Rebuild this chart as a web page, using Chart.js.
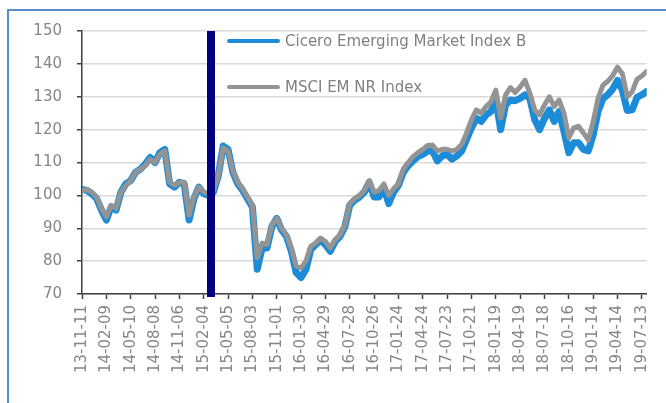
<!DOCTYPE html>
<html>
<head>
<meta charset="utf-8">
<script src="https://cdn.jsdelivr.net/npm/chart.js@4.4.1/dist/chart.umd.min.js"></script>
<style>
  html, body { margin: 0; padding: 0; background: #fff; overflow: hidden; }
  #wrap { position: relative; width: 666px; height: 403px; }
  #frame { position: absolute; left: 7px; top: 9px; width: 700px; height: 450px;
           border-left: 2px solid #5B8BD0; border-top: 2px solid #5B8BD0; }
  #chart { position: absolute; left: 0; top: 0; }
  .leg { position: absolute; left: 227px; font: 15px "DejaVu Sans", sans-serif; color: #808080;
         white-space: nowrap; }
  .leg i { display: inline-block; width: 53px; height: 4px; border-radius: 2px;
           vertical-align: middle; margin-right: 5px; position: relative; top: -1px; }
</style>
</head>
<body>
<div id="wrap">
  <div id="frame"></div>
  <canvas id="chart" width="666" height="403"></canvas>
  <div class="leg" style="top:32px"><i style="background:#1C8CD9"></i>Cicero Emerging Market Index B</div>
  <div class="leg" style="top:78px"><i style="background:#949494"></i>MSCI EM NR Index</div>
</div>
<script>
// values, one sample every 18 days from 2013-11-11
const startDate = '2013-11-11';
const sampleStepDays = 18;

const cicero = [
  101.8, 101.5, 100.5, 99, 95.5, 92.5, 96.5, 95.5, 101, 103.5,
  104.5, 107, 108, 109.5, 111.5, 110, 113, 114, 103.5, 102.5,
  104, 103.5, 92.5, 99, 102.5, 100.5, 100, 101, 106, 115,
  114, 107, 103.5, 101.5, 99, 96.5, 77.5, 84, 84, 90.5,
  93, 89.5, 87.5, 83, 76.5, 75, 77.5, 83.5, 85, 86.5,
  85, 83, 86, 87.5, 90.5, 97, 98.5, 99.5, 101, 104,
  99.5, 99.5, 102.5, 97.5, 101, 103, 107, 109, 110.5, 111.8,
  112.5, 113.5, 113.5, 110.5, 112, 112.5, 111, 112, 113.5, 117,
  120.5, 123.5, 122.5, 124.5, 125.5, 129, 120, 127.5, 129, 128.8,
  129.5, 130.6, 129.5, 123, 120, 123.4, 126, 122.5, 125.5, 119.5,
  113, 116, 116, 114, 113.5, 118.3, 125.5, 129.4, 130.6, 132.3,
  135, 132, 125.8, 126, 129.8, 130.6, 131.6
];

const msci = [
  101.5, 101.8, 101, 99.5, 96, 93.5, 97, 96, 101, 103,
  104.5, 107, 108, 109, 111, 110, 112.5, 113.5, 104, 103,
  104, 104, 94, 99.5, 102.5, 101, 100.5, 101.5, 106, 114.5,
  113.5, 107.5, 104, 102, 99.5, 97, 81, 85.5, 85, 91,
  93, 90, 88, 84, 78.5, 78, 80, 84.5, 85.5, 87,
  86, 84, 86.5, 88, 91, 97.5, 99, 100, 101.5, 104.5,
  101, 101.5, 103.5, 100, 102, 103.5, 108, 110, 111.8, 113,
  114, 115.2, 115.3, 113.5, 114, 114, 113.5, 114, 115.5, 119,
  123, 126, 125, 127, 128.5, 132, 123.5, 130.5, 132.8, 131.3,
  133, 135, 131, 126, 124.5, 127.5, 130, 127, 129, 125,
  117.5, 120.5, 121, 119, 116.8, 122.4, 129.5, 133.5, 134.7, 136.4,
  139, 137, 130, 131.5, 135.3, 136.3, 137.7
];

const tickLabels = [
  '13-11-11', '14-02-09', '14-05-10', '14-08-08', '14-11-06', '15-02-04',
  '15-05-05', '15-08-03', '15-11-01', '16-01-30', '16-04-29', '16-07-28',
  '16-10-26', '17-01-24', '17-04-24', '17-07-23', '17-10-21', '18-01-19',
  '18-04-19', '18-07-18', '18-10-16', '19-01-14', '19-04-14', '19-07-13'
];

const markerDate = '2015-03-03';

function dayOf(iso) {
  return (Date.parse(iso) - Date.parse(startDate)) / 864e5;
}
function toPoints(arr) {
  return arr.map((v, i) => ({ x: i * sampleStepDays, y: v }));
}

const lastDay = (msci.length - 1) * sampleStepDays;
const axisColor = '#404040';
const tickFont = { family: 'DejaVu Sans', size: 15 };

const markerLine = {
  id: 'markerLine',
  afterDatasetsDraw(chart) {
    const { ctx, chartArea, scales } = chart;
    const x = scales.x.getPixelForValue(dayOf(markerDate));
    ctx.save();
    ctx.fillStyle = '#000080';
    ctx.fillRect(Math.round(x) - 4, chartArea.top, 8, chartArea.bottom - chartArea.top + 3);
    ctx.restore();
  }
};

new Chart(document.getElementById('chart').getContext('2d'), {
  type: 'line',
  data: {
    datasets: [{
      label: 'Cicero Emerging Market Index B',
      data: toPoints(cicero),
      borderColor: '#1C8CD9',
      borderWidth: 7,
      order: 2
    }, {
      label: 'MSCI EM NR Index',
      data: toPoints(msci),
      borderColor: '#949494',
      borderWidth: 5,
      order: 1
    }]
  },
  options: {
    responsive: false,
    animation: false,
    elements: {
      point: { radius: 0 },
      line: { tension: 0, borderJoinStyle: 'round', borderCapStyle: 'round' }
    },
    layout: { padding: { top: 31, right: 19, bottom: 0, left: 0 } },
    plugins: {
      legend: { display: false },
      tooltip: { enabled: false }
    },
    scales: {
      x: {
        type: 'linear',
        min: 0,
        max: lastDay,
        afterBuildTicks: (scale) => {
          scale.ticks = tickLabels.map(t => ({ value: dayOf('20' + t) }));
        },
        afterFit: (scale) => { scale.height = 109; },
        grid: { display: true, drawOnChartArea: false, drawTicks: true,
                tickLength: 5, tickColor: axisColor, tickWidth: 1.5 },
        border: { display: true, color: axisColor, width: 1.5 },
        ticks: {
          autoSkip: false,
          maxRotation: 90,
          minRotation: 90,
          padding: 6,
          color: '#868686',
          font: tickFont,
          callback: (value, index) => tickLabels[index]
        }
      },
      y: {
        min: 70,
        max: 150,
        afterFit: (scale) => { scale.width = 82; },
        grid: { color: '#d9d9d9', lineWidth: 1.5, tickLength: 5,
                tickColor: axisColor, tickWidth: 1.5 },
        border: { display: true, color: axisColor, width: 1.5 },
        ticks: { stepSize: 10, padding: 15, color: '#868686', font: tickFont }
      }
    }
  },
  plugins: [markerLine]
});
</script>
</body>
</html>
